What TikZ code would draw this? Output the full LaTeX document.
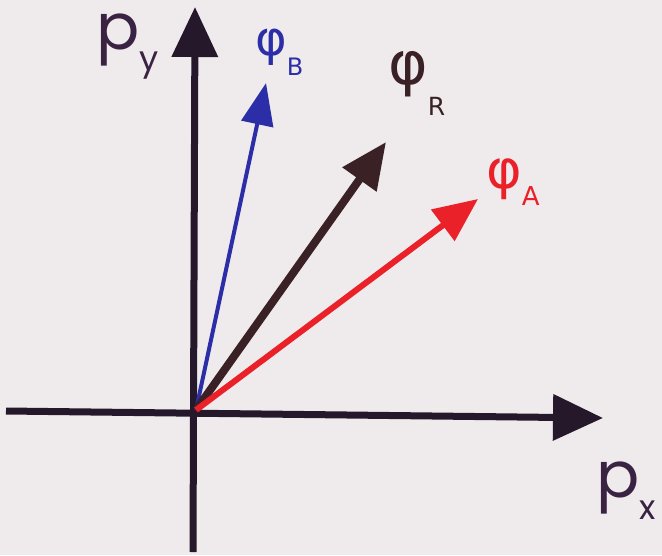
\documentclass[tikz,border=0pt]{standalone}
\usepackage{fontspec}
\setmainfont{Poppins}
\newfontfamily\greekfont{DejaVu Sans}
\usepackage{xcolor}
\usetikzlibrary{arrows.meta}

\definecolor{paper}{HTML}{EFEBED}
\definecolor{axiscol}{HTML}{24182A}
\definecolor{labelcol}{HTML}{3A2242}
\definecolor{phiRcol}{HTML}{3A2126}
\definecolor{phiBcol}{HTML}{2B2EA6}
\definecolor{phiAcol}{HTML}{EA2129}

\begin{document}
\begin{tikzpicture}[
    x=1pt, y=-1pt,
    axis/.style={draw=axiscol, line width=7pt,
        -{Triangle[length=50pt, width=45pt]}},
    vec/.style={line width=#1},
    every node/.style={inner sep=0pt, anchor=base west},
]
    % ── Frame ─────────────────────────────────────
    \fill[paper] (0,0) rectangle (662,555);
    \useasboundingbox (0,0) rectangle (662,555);

    % ── Axes ──────────────────────────────────────
    \coordinate (O) at (196,410);
    \coordinate (xstart) at (6,411);
    \coordinate (xend) at (603,418);
    \coordinate (ystart) at (193,552);
    \coordinate (yend) at (195,7);
    \draw[axis] (xstart) -- (xend);
    \draw[axis] (ystart) -- (yend);

    \node[text=labelcol] (py) at (96,49)
        {\fontsize{64}{64}\selectfont p\raisebox{-21pt}{\fontsize{34}{34}\selectfont y}};
    \node[text=labelcol] (px) at (596,497)
        {\fontsize{64}{64}\selectfont p\raisebox{-22pt}{\fontsize{34}{34}\selectfont x}};

    % ── Vectors ───────────────────────────────────
    \coordinate (tipB) at (266,83);
    \coordinate (tipR) at (386,142);
    \coordinate (tipA) at (478,199);
    \draw[phiBcol, vec=4pt, -{Triangle[length=42pt, width=32pt]}] (O) -- (tipB);
    \draw[phiRcol, vec=8pt, -{Triangle[length=46pt, width=40pt]}] (O) -- (tipR);
    \draw[phiAcol, vec=6pt, -{Triangle[length=44pt, width=38pt]}] (O) -- (tipA);

    % ── Labels ────────────────────────────────────
    \node[text=phiBcol] (phiB) at (255,55)
        {\greekfont\fontsize{48}{48}\selectfont φ\raisebox{-20pt}{\fontsize{24}{24}\selectfont B}};
    \node[text=phiRcol] (phiR) at (388,84)
        {\greekfont\fontsize{60}{60}\selectfont φ\raisebox{-31pt}{\fontsize{25}{25}\selectfont R}};
    \node[text=phiAcol] (phiA) at (486,188)
        {\greekfont\fontsize{54}{54}\selectfont φ\raisebox{-17pt}{\fontsize{26}{26}\selectfont A}};
\end{tikzpicture}
\end{document}
